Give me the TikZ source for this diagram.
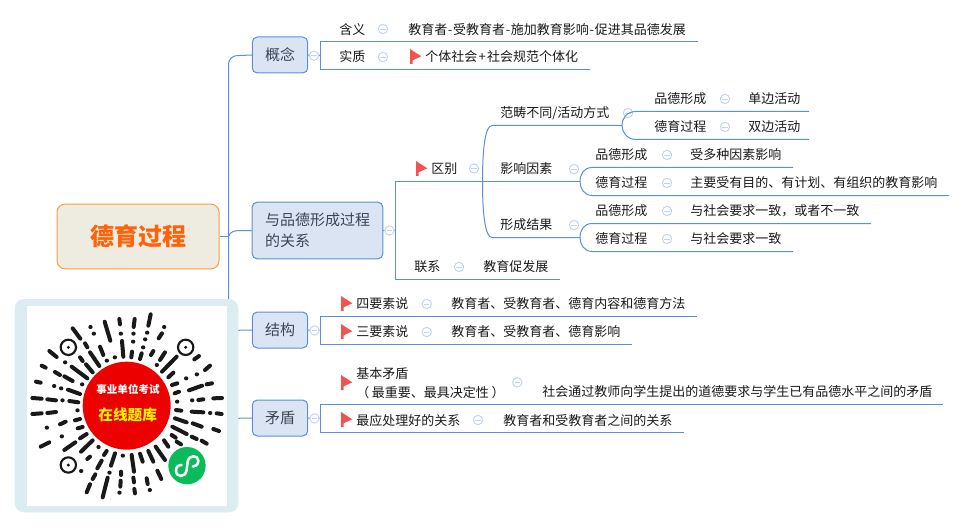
\documentclass[tikz,border=0pt]{standalone}
\usepackage{fontspec}
\setmainfont{Noto Sans CJK SC}
\definecolor{linkblue}{HTML}{5B8FD6}
\definecolor{foldblue}{HTML}{C3D2EE}
\definecolor{topicfill}{HTML}{DAE4F2}
\definecolor{topictext}{HTML}{3A4658}
\definecolor{rootfill}{HTML}{EEEBE0}
\definecolor{rootline}{HTML}{FC9A42}
\definecolor{rootorange}{HTML}{FF6208}
\definecolor{flagred}{HTML}{F25350}
\definecolor{qrframe}{HTML}{DCEDF2}
\definecolor{qrgreen}{HTML}{0ABB5C}
\tikzset{
  link/.style={draw=linkblue,line width=0.75pt},
  rootbox/.style={draw=rootline,fill=rootfill,rounded corners=6pt,line width=0.75pt,minimum width=121.5pt,minimum height=48.5pt,text=rootorange,font=\fontsize{18}{20}\selectfont\bfseries},
  topicbox/.style={draw=linkblue,fill=topicfill,rounded corners=3.75pt,line width=0.75pt,minimum width=41.5pt,minimum height=27pt,inner sep=0pt,text=topictext,font=\fontsize{11.25}{15.75}\selectfont},
  leaf/.style={anchor=west,inner sep=0pt,text=black!90,font=\fontsize{9.75}{14}\selectfont},
  fold/.style={circle,draw=foldblue,fill=white,line width=0.7pt,minimum size=7pt,inner sep=0pt,path picture={\draw[foldblue,line width=0.7pt] ([xshift=-2pt]path picture bounding box.center) -- ([xshift=2pt]path picture bounding box.center);}},
  flagpic/.pic={\fill[flagred,yscale=-1] (0,0) -- (11.3,7.3) -- (2.7,11.3) -- (2.7,15) -- (0,15) -- cycle;},
  qrstroke/.style={line width=3pt,line cap=round,black!90}
}
\begin{document}
\begin{tikzpicture}[x=0.75pt,y=0.75pt,yscale=-1]
\useasboundingbox (0,0) rectangle (965,528);

%Root and main topics
\draw (138,236.5) node [rootbox] (root) {德育过程};
\draw (280,55) node [topicbox] (gainian) {概念};
\draw (317.5,230.5) node [topicbox,minimum width=98pt,minimum height=42.5pt,align=left] (guanxi) {与品德形成过程\\的关系};
\draw (280,330) node [topicbox] (jiegou) {结构};
\draw (280,418) node [topicbox] (maodun) {矛盾};

%Main spine
\coordinate (hub) at (228.5,236.5);
\draw [link] (root.east) -- (hub);
\draw [link] (gainian.west) -- (240,55.5) .. controls (232,55.5) and (228.5,58) .. (228.5,66) -- (228.5,310) ;
\draw [link] (hub) .. controls (230,232) and (234,230.5) .. (240,230.5) -- (guanxi.west);
\draw [link] (228,330.5) -- (jiegou.west);
\draw [link] (228,418.5) -- (maodun.west);

%Concept branch
\coordinate (ga) at (320.5,41.5);
\coordinate (gb) at (320.5,69.5);
\coordinate (gc) at (698,41.5);
\coordinate (gd) at (590,69.5);
\draw [link] (gc) -- (ga) -- (gb) -- (gd);
\draw [link] (gainian.east) -- (320.5,55.5);
\draw (314,55.7) node [fold] (gainianf) {};
\draw (339,30) node [leaf] (hanyi) {含义};
\draw (383,29) node [fold] (hanyif) {};
\draw (408,30) node [leaf] (hanyit) {教育者\kern.5pt-\kern.5pt受教育者\kern.5pt-\kern.5pt施加教育影响\kern.5pt-\kern.5pt促进其品德发展};
\draw (339,57) node [leaf] (shizhi) {实质};
\draw (383,57) node [fold] (shizhif) {};
\path (410,49) pic {flagpic};
\draw (425,57) node [leaf] (shizhit) {个体社会\kern1pt+\kern1pt社会规范个体化};

%Relation branch
\coordinate (ra) at (395.5,181.5);
\coordinate (rb) at (395.5,279.5);
\coordinate (rc) at (560,279.5);
\coordinate (rd) at (580,181.5);
\draw [link] (rd) -- (ra) -- (rb) -- (rc);
\draw [link] (guanxi.east) -- (395.5,230.5);
\draw (389.5,230.5) node [fold] (guanxif) {};
\path (416,161) pic {flagpic};
\draw (431,169) node [leaf] (qubie) {区别};
\draw (474,168.5) node [fold] (qubief) {};
\draw (414,267) node [leaf] (lianxi) {联系};
\draw (459,267) node [fold] (lianxif) {};
\draw (483,267) node [leaf] (lianxit) {教育促发展};

%Difference branch
\coordinate (qa) at (622,125.5);
\coordinate (qb) at (492,125.5);
\coordinate (qc) at (482.5,181.5);
\coordinate (qd) at (492,237.5);
\coordinate (qe) at (580,237.5);
\draw [link] (qa) -- (qb) .. controls (485,125.5) and (482.5,150) .. (qc) .. controls (482.5,213) and (485,237.5) .. (qd) -- (qe);
\draw (500,113) node [leaf] (fanchou) {范畴不同/活动方式};
\draw (628,113) node [fold] (fanchouf) {};
\draw (500,169) node [leaf] (yingxiang) {影响因素};
\draw (574,169) node [fold] (yingxiangf) {};
\draw (500,225) node [leaf] (jieguo) {形成结果};
\draw (574,225) node [fold] (jieguof) {};

%Scope lines
\coordinate (fa) at (809,111.5);
\coordinate (fb) at (636,111.5);
\coordinate (fc) at (636,139.5);
\coordinate (fd) at (809,139.5);
\draw [link] (fa) -- (fb) .. controls (627,111.5) and (622,118) .. (qa) .. controls (622,132) and (627,139.5) .. (fc) -- (fd);
\draw (654,99) node [leaf] (fanchoua) {品德形成};
\draw (725,99) node [fold] (fanchouaf) {};
\draw (748,99) node [leaf] (fanchouat) {单边活动};
\draw (654,127) node [leaf] (fanchoub) {德育过程};
\draw (725,127) node [fold] (fanchoubf) {};
\draw (748,127) node [leaf] (fanchoubt) {双边活动};

%Factor lines
\coordinate (ya) at (793,167.5);
\coordinate (yb) at (592,167.5);
\coordinate (yc) at (592,195.5);
\coordinate (yd) at (949,195.5);
\draw [link] (ya) -- (yb) .. controls (584,167.5) and (580,174) .. (rd) .. controls (580,188) and (584,195.5) .. (yc) -- (yd);
\draw (595,155) node [leaf] (yingxianga) {品德形成};
\draw (667,155) node [fold] (yingxiangaf) {};
\draw (690,155) node [leaf] (yingxiangat) {受多种因素影响};
\draw (595,183) node [leaf] (yingxiangb) {德育过程};
\draw (667,183) node [fold] (yingxiangbf) {};
\draw (690,183) node [leaf] (yingxiangbt) {主要受有目的、有计划、有组织的教育影响};

%Result lines
\coordinate (ja) at (871,223.5);
\coordinate (jb) at (592,223.5);
\coordinate (jc) at (592,251.5);
\coordinate (jd) at (793,251.5);
\draw [link] (ja) -- (jb) .. controls (584,223.5) and (580,230) .. (qe) .. controls (580,244) and (584,251.5) .. (jc) -- (jd);
\draw (595,211) node [leaf] (jieguoa) {品德形成};
\draw (667,211) node [fold] (jieguoaf) {};
\draw (690,211) node [leaf] (jieguoat) {与社会要求一致，或者不一致};
\draw (595,239) node [leaf] (jieguob) {德育过程};
\draw (667,239) node [fold] (jieguobf) {};
\draw (690,239) node [leaf] (jieguobt) {与社会要求一致};

%Structure branch
\coordinate (sa) at (696.7,316.5);
\coordinate (sb) at (320.5,316.5);
\coordinate (sc) at (320.5,344.5);
\coordinate (sd) at (631.7,344.5);
\draw [link] (sa) -- (sb) -- (sc) -- (sd);
\draw [link] (jiegou.east) -- (320.5,330.5);
\draw (314.5,330.5) node [fold] (jiegouf) {};
\path (341,296) pic {flagpic};
\draw (356,304) node [leaf] (sifour) {四要素说};
\draw (426.7,304) node [fold] (sifourf) {};
\draw (451,304) node [leaf] (sifourt) {教育者、受教育者、德育内容和德育方法};
\path (341,324) pic {flagpic};
\draw (356,332) node [leaf] (santhree) {三要素说};
\draw (426.7,332) node [fold] (santhreef) {};
\draw (451,332) node [leaf] (santhreet) {教育者、受教育者、德育影响};

%Conflict branch
\coordinate (ma) at (943,404.5);
\coordinate (mb) at (320.5,404.5);
\coordinate (mc) at (320.5,432.5);
\coordinate (md) at (684,432.5);
\draw [link] (ma) -- (mb) -- (mc) -- (md);
\draw [link] (maodun.east) -- (320.5,418.5);
\draw (314.5,418.5) node [fold] (maodunf) {};
\path (341,375) pic {flagpic};
\draw (356,374) node [leaf] (jiben) {基本矛盾};
\draw (356,392.7) node [leaf] (jibenb) {（\kern2pt 最重要、最具决定性\kern2pt）};
\draw (517.3,382.3) node [fold] (jibenf) {};
\draw (542,392) node [leaf] (jibent) {社会通过教师向学生提出的道德要求与学生已有品德水平之间的矛盾};
\path (341,412) pic {flagpic};
\draw (356,421) node [leaf] (zuiying) {最应处理好的关系};
\draw (478,420) node [fold] (zuiyingf) {};
\draw (503,421) node [leaf] (zuiyingt) {教育者和受教育者之间的关系};

%QR frame
\draw [qrframe,fill=qrframe,rounded corners=6.5pt] (15,299.5) rectangle (238,512);
\fill [white] (26.7,306) rectangle (227,505.7);

%QR code
\begin{scope}[shift={(0,295)},x=0.25pt,y=0.25pt]
\draw [qrstroke] (452,58) -- (445,92) (404,72) -- (401,96) (358,72) -- (360,88) (314,80) -- (331,137) (218,100) -- (241,131)
  (271,96) -- +(1,0) (281,116) -- +(1,0) (492,96) -- +(1,0) (486,115) -- (476,130) (441,113) -- +(1,0) (400,116) -- +(1,0) (362,116) -- +(1,0) (435,133) -- +(1,0) (399,140) -- +(1,0)
  (366,138) -- (370,185) (396,170) -- (394,187) (429,157) -- +(1,0) (425,175) -- (420,192) (460,168) -- (453,180) (495,172) -- (480,195) (530,185) -- (486,230) (470,210) -- +(1,0)
  (300,155) -- (310,180) (255,145) -- (262,157) (240,187) -- (248,198) (270,172) -- (298,213) (320,197) -- +(1,0) (344,187) -- +(1,0)
  (148,168) -- (170,186) (195,202) -- +(1,0) (125,212) -- (137,218) (215,215) -- (262,250) (258,208) -- (278,232) (165,231) -- (180,240) (193,244) -- (218,258)
  (108,260) -- (122,263) (246,268) -- +(1,0) (162,273) -- +(1,0) (183,280) -- +(1,0) (204,284) -- (240,297)
  (97,309) -- (125,311) (142,313) -- (168,316) (187,316) -- +(1,0) (208,318) -- (235,322) (232,346) -- +(1,0)
  (97,357) -- (125,355) (142,354) -- (168,351) (180,388) -- (197,380) (225,376) -- (240,372) (140,398) -- +(1,0) (233,400) -- (248,396) (185,424) -- +(1,0) (240,430) -- (260,417)
  (122,455) -- (148,442) (193,465) -- (226,442) (243,470) -- (278,436) (295,456) -- +(1,0) (270,485) -- (262,492) (320,468) -- (312,480) (345,475) -- (333,512) (305,497) -- (292,520)
  (368,482) -- +(1,0) (395,480) -- (402,530) (420,476) -- (428,500) (445,468) -- (460,500) (467,455) -- (495,495) (492,436) -- (505,455) (515,420) -- (527,428) (530,440) -- (543,448)
  (472,527) -- (484,552) (328,533) -- +(1,0) (363,530) -- (363,540) (286,538) -- (278,552) (243,528) -- +(1,0) (323,548) -- (308,607) (270,568) -- (260,592)
  (362,557) -- (361,575) (400,548) -- (402,562) (440,550) -- (443,567) (449,585) -- +(1,0) (403,582) -- (405,595) (358,593) -- +(1,0)
  (630,212) -- (615,225) (597,183) -- (583,193) (590,238) -- +(1,0) (558,250) -- +(1,0) (520,233) -- (505,247) (532,265) -- (516,270) (537,290) -- (524,295)
  (606,272) -- (567,286) (636,265) -- (620,268) (531,320) -- +(1,0) (576,316) -- +(1,0) (610,313) -- (595,315) (666,309) -- (640,310)
  (528,345) -- (544,347) (575,350) -- (610,352) (630,354) -- +(1,0) (665,357) -- (650,355) (525,370) -- (560,382) (578,385) -- (605,395) (640,402) -- (657,408)
  (517,395) -- (560,417) (575,425) -- (590,432) (605,437) -- (620,446);
%Finder rings
\draw [black!90,line width=1.6pt] (205,157) circle (23);
\draw [black!90,line width=1.6pt] (557,157) circle (23);
\draw [black!90,line width=1.6pt] (205,510) circle (23);
\fill [black!90] (205,157) circle (5) (557,157) circle (5) (205,510) circle (5);
%Red badge
\fill [red!93!black] (380,332) circle (132);
\draw (384,283) node [inner sep=0pt,text=white,font=\fontsize{7.9}{9}\selectfont\bfseries] (kaoshi) {事业单位考试};
\draw (383,359) node [inner sep=0pt,text=yellow,font=\fontsize{11}{12}\selectfont\bfseries] (tiku) {在线题库};
%Green badge
\fill [qrgreen] (561,512) circle (56);
\draw [white,line width=1.9pt,line cap=round] (545,510) .. controls (535,510) and (528,515) .. (528,527) .. controls (528,547) and (556,550) .. (560,525) -- (563,500) .. controls (567,478) and (595,480) .. (595,497) .. controls (595,510) and (585,515) .. (578,515);
\end{scope}

\end{tikzpicture}
\end{document}
